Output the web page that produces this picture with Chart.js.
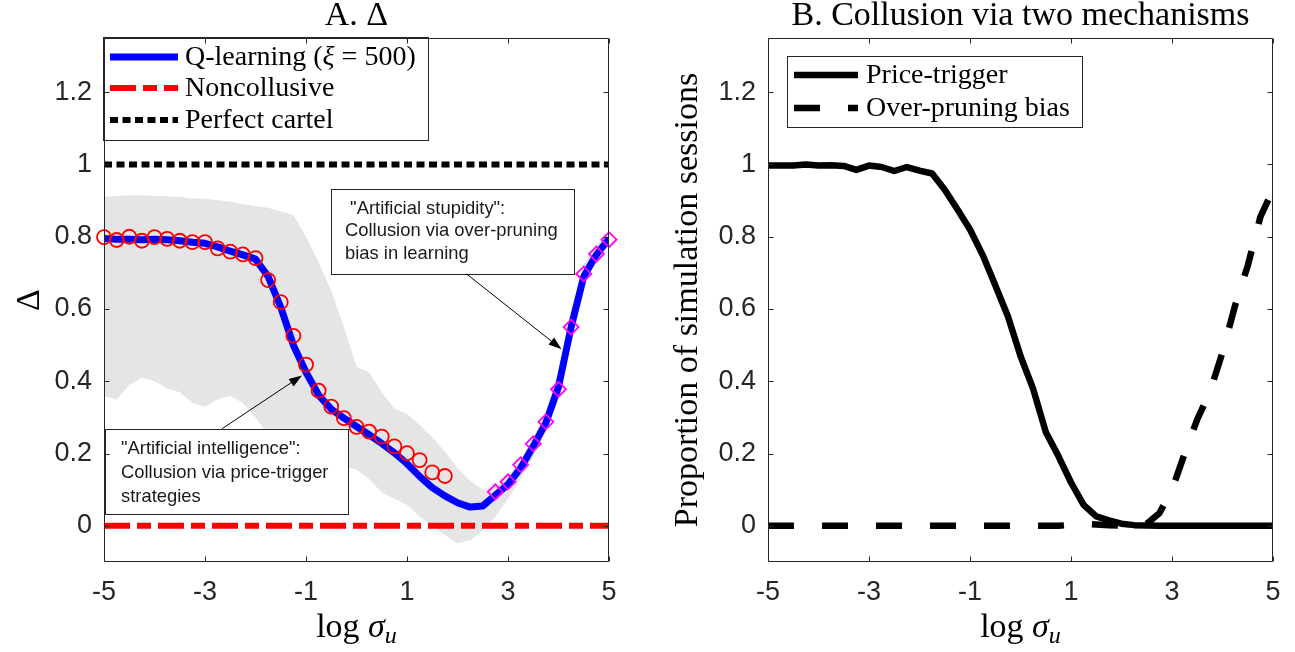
<!DOCTYPE html>
<html><head><meta charset="utf-8">
<script src="https://cdn.jsdelivr.net/npm/chart.js@4.4.1/dist/chart.umd.min.js"></script>
<style>
html,body{margin:0;padding:0;background:#fff;}
body{width:1295px;height:652px;overflow:hidden;position:relative;}
canvas{position:absolute;top:0;}
</style>
</head><body>
<canvas id="c1" width="648" height="652" style="left:0px"></canvas>
<canvas id="c2" width="647" height="652" style="left:648px"></canvas>
<script>
// ---------- data ----------
const xTicks = [-5, -3, -1, 1, 3, 5];
const yTicks = [0, 0.2, 0.4, 0.6, 0.8, 1, 1.2];
const sigma = [-5,-4.75,-4.5,-4.25,-4,-3.75,-3.5,-3.25,-3,-2.75,-2.5,-2.25,-2,-1.75,-1.5,-1.25,-1,-0.75,-0.5,-0.25,0,0.25,0.5,0.75,1,1.25,1.5,1.75,2,2.25,2.5,2.75,3,3.25,3.5,3.75,4,4.25,4.5,4.75,5];
const qLearning = [0.795,0.793,0.793,0.792,0.793,0.792,0.789,0.785,0.782,0.772,0.760,0.750,0.738,0.690,0.605,0.500,0.425,0.362,0.323,0.298,0.275,0.252,0.228,0.202,0.172,0.137,0.106,0.083,0.064,0.052,0.055,0.085,0.115,0.160,0.220,0.285,0.385,0.550,0.690,0.750,0.795];
const bandUpper = [0.910,0.913,0.915,0.915,0.913,0.912,0.910,0.906,0.905,0.901,0.897,0.890,0.885,0.880,0.870,0.860,0.800,0.730,0.650,0.550,0.440,0.425,0.370,0.325,0.310,0.280,0.245,0.205,0.160,0.125,0.100,0.110,0.140,0.180,0.245,0.315,0.430,0.600,0.725,0.775,0.815];
const bandLower = [0.360,0.350,0.390,0.410,0.400,0.380,0.370,0.340,0.330,0.350,0.360,0.340,0.300,0.250,0.220,0.200,0.190,0.180,0.170,0.165,0.155,0.130,0.092,0.075,0.058,0.025,0.000,-0.025,-0.048,-0.040,-0.012,0.025,0.075,0.130,0.190,0.260,0.350,0.510,0.670,0.735,0.780];
const circleSigma = [-5,-4.75,-4.5,-4.25,-4,-3.75,-3.5,-3.25,-3,-2.75,-2.5,-2.25,-2,-1.75,-1.5,-1.25,-1,-0.75,-0.5,-0.25,0,0.25,0.5,0.75,1,1.25,1.5,1.75];
const circleDelta = [0.799,0.791,0.800,0.789,0.799,0.794,0.789,0.785,0.785,0.768,0.759,0.751,0.741,0.680,0.619,0.526,0.446,0.374,0.330,0.298,0.274,0.261,0.247,0.220,0.201,0.182,0.148,0.138];
const diamondSigma = [2.75,3,3.25,3.5,3.75,4,4.25,4.5,4.75,5];
const diamondDelta = [0.094,0.122,0.169,0.227,0.288,0.378,0.550,0.697,0.752,0.792];
const refSigma = [-5, 5];
const noncollusive = [0, 0];
const perfectCartel = [1, 1];
const priceTrigger = [0.997,0.997,0.997,1.000,0.997,0.998,0.996,0.985,0.997,0.993,0.982,0.993,0.983,0.975,0.930,0.876,0.820,0.750,0.666,0.580,0.470,0.379,0.260,0.193,0.120,0.058,0.026,0.015,0.006,0.002,0.001,0,0,0,0,0,0,0,0,0,0];
const overPruning = [0,0,0,0,0,0,0,0,0,0,0,0,0,0,0,0,0,0,0,0,0,0,0,0,0.003,0.006,0.004,0.002,0.001,0.001,0.006,0.035,0.100,0.200,0.295,0.370,0.480,0.610,0.720,0.855,0.930];

// ---------- helpers ----------
const SERIF = '"Liberation Serif", "Times New Roman", serif';
const SANS = '"Liberation Sans", Arial, Helvetica, sans-serif';
const AXIS = '#262626';
const pts = (xs, ys) => xs.map((x, i) => ({x: x, y: ys[i]}));
const RED_DASH = [26, 7, 14, 7];
const DOT = [8, 4.5];
const LONG_DASH = [26, 28];

function richWidth(ctx, parts) { let w = 0; for (const p of parts) { ctx.font = p.f; w += ctx.measureText(p.t).width; } return w; }
function drawRich(ctx, parts, x, y, align) {
  const w = richWidth(ctx, parts);
  let cx = align === 'center' ? x - w / 2 : x;
  ctx.textAlign = 'left';
  for (const p of parts) { ctx.font = p.f; ctx.fillText(p.t, cx, y + (p.dy || 0)); cx += ctx.measureText(p.t).width; }
}
function arrow(ctx, x1, y1, x2, y2) {
  const ang = Math.atan2(y2 - y1, x2 - x1), L = 13, W = 4.5;
  ctx.beginPath(); ctx.moveTo(x1, y1); ctx.lineTo(x2 - (L - 2) * Math.cos(ang), y2 - (L - 2) * Math.sin(ang)); ctx.stroke();
  ctx.beginPath(); ctx.moveTo(x2, y2);
  ctx.lineTo(x2 - L * Math.cos(ang) + W * Math.sin(ang), y2 - L * Math.sin(ang) - W * Math.cos(ang));
  ctx.lineTo(x2 - L * Math.cos(ang) - W * Math.sin(ang), y2 - L * Math.sin(ang) + W * Math.cos(ang));
  ctx.closePath(); ctx.fill();
}

function frameAndTicks(chart) {
  const {ctx, chartArea: a, scales} = chart;
  const x = scales.x, y = scales.y;
  ctx.save();
  ctx.strokeStyle = AXIS; ctx.lineWidth = 1; ctx.setLineDash([]);
  const L = Math.round(a.left) + 0.5, R = Math.round(a.right) - 0.5, T = Math.round(a.top) + 0.5, B = Math.round(a.bottom) - 0.5;
  ctx.beginPath(); ctx.rect(L, T, R - L, B - T); ctx.stroke();
  const tl = 5;
  ctx.beginPath();
  for (const v of xTicks) {
    const px = Math.round(x.getPixelForValue(v)) + 0.5;
    ctx.moveTo(px, B); ctx.lineTo(px, B - tl);
    ctx.moveTo(px, T); ctx.lineTo(px, T + tl);
  }
  for (const v of yTicks) {
    const py = Math.round(y.getPixelForValue(v)) + 0.5;
    ctx.moveTo(L, py); ctx.lineTo(L + tl, py);
    ctx.moveTo(R, py); ctx.lineTo(R - tl, py);
  }
  ctx.stroke();
  ctx.restore();
}

function drawLegend(ctx, a, lg) {
  ctx.save();
  const bx = a.left + lg.dx, by = a.top + lg.dy;
  ctx.fillStyle = '#fff'; ctx.fillRect(bx, by, lg.w, lg.h);
  ctx.strokeStyle = AXIS; ctx.lineWidth = 1; ctx.setLineDash([]);
  ctx.strokeRect(Math.round(bx) + 0.5, Math.round(by) + 0.5, lg.w, lg.h);
  for (const r of lg.rows) {
    const yy = by + r.y;
    ctx.strokeStyle = r.color; ctx.lineWidth = r.width; ctx.setLineDash(r.dash || []); ctx.lineCap = 'butt';
    ctx.beginPath(); ctx.moveTo(bx + lg.s0, yy); ctx.lineTo(bx + lg.s1, yy); ctx.stroke();
    ctx.setLineDash([]);
    ctx.fillStyle = '#000'; ctx.textBaseline = 'middle';
    drawRich(ctx, r.parts, bx + lg.tx, yy + 1, 'left');
  }
  ctx.restore();
}

function titlesAndLabels(chart, cfg) {
  const {ctx, chartArea: a} = chart;
  const cx = (a.left + a.right) / 2, cy = (a.top + a.bottom) / 2;
  ctx.save();
  ctx.fillStyle = '#000'; ctx.textBaseline = 'alphabetic';
  drawRich(ctx, cfg.title, cx, 25, 'center');
  drawRich(ctx, [{t: 'log ', f: '34px ' + SERIF}, {t: 'σ', f: 'italic 34px ' + SERIF}, {t: 'u', f: 'italic 24px ' + SERIF, dy: 6}], cx, 637, 'center');
  ctx.translate(cfg.yLabelX, cy); ctx.rotate(-Math.PI / 2);
  ctx.textBaseline = 'middle';
  drawRich(ctx, cfg.yLabel, 0, 0, 'center');
  ctx.restore();
}

function notesDraw(chart, notes) {
  const {ctx, scales: {x, y}} = chart;
  ctx.save();
  for (const n of notes) {
    const l = x.getPixelForValue(n.box[0]), t = y.getPixelForValue(n.box[1]);
    const r = x.getPixelForValue(n.box[2]), b = y.getPixelForValue(n.box[3]);
    ctx.fillStyle = '#fff'; ctx.fillRect(l, t, r - l, b - t);
    ctx.strokeStyle = AXIS; ctx.lineWidth = 1; ctx.setLineDash([]);
    ctx.strokeRect(Math.round(l) + 0.5, Math.round(t) + 0.5, Math.round(r - l), Math.round(b - t));
    ctx.fillStyle = '#1a1a1a'; ctx.font = '18.4px ' + SANS; ctx.textAlign = 'left'; ctx.textBaseline = 'middle';
    n.lines.forEach((s, i) => ctx.fillText(s, l + n.pad, t + n.offs[i]));
    ctx.strokeStyle = '#000'; ctx.fillStyle = '#000'; ctx.lineWidth = 1;
    arrow(ctx, x.getPixelForValue(n.from[0]), y.getPixelForValue(n.from[1]), x.getPixelForValue(n.to[0]), y.getPixelForValue(n.to[1]));
  }
  ctx.restore();
}

function scalesCfg(yWidth) {
  return {
    x: {type: 'linear', min: -5, max: 5,
      afterBuildTicks: s => { s.ticks = xTicks.map(v => ({value: v})); },
      afterFit: s => { s.height = 90; },
      ticks: {font: {family: SANS, size: 27}, color: AXIS, padding: 14, maxRotation: 0, autoSkip: false, callback: v => String(v)},
      grid: {display: false, drawTicks: false}, border: {display: false}},
    y: {type: 'linear', min: -0.1, max: 1.35,
      afterBuildTicks: s => { s.ticks = yTicks.map(v => ({value: v})); },
      afterFit: s => { s.width = yWidth; },
      ticks: {font: {family: SANS, size: 27}, color: AXIS, padding: 12, autoSkip: false, callback: v => String(v)},
      grid: {display: false, drawTicks: false}, border: {display: false}}
  };
}
const baseOpts = {responsive: false, animation: false, devicePixelRatio: 1, events: [],
  plugins: {legend: {display: false}, tooltip: {enabled: false}, title: {display: false}},
  elements: {line: {tension: 0, borderCapStyle: 'butt', borderJoinStyle: 'round'}, point: {radius: 0}}};

// ---------- Panel A ----------
const notesA = [
  {box: [-4.98, 0.269, -0.168, 0.033], pad: 16, offs: [20, 44, 68],
   lines: ['"Artificial intelligence":', 'Collusion via price-trigger', 'strategies'],
   from: [-2.66, 0.269], to: [-1.08, 0.416]},
  {box: [-0.505, 0.933, 4.31, 0.697], pad: 14, offs: [20, 42.5, 65],
   lines: [' "Artificial stupidity":', 'Collusion via over-pruning', 'bias in learning'],
   from: [2.18, 0.697], to: [4.06, 0.489]}
];
const legendA = {dx: -1, dy: -1, w: 325, h: 103, s0: 7, s1: 75, tx: 82, rows: [
  {y: 20, color: '#0000ff', width: 7, parts: [{t: 'Q-learning (', f: '28px ' + SERIF}, {t: 'ξ', f: 'italic 28px ' + SERIF}, {t: ' = 500)', f: '28px ' + SERIF}]},
  {y: 51, color: '#ff0000', width: 6, dash: RED_DASH, parts: [{t: 'Noncollusive', f: '28px ' + SERIF}]},
  {y: 83, color: '#000000', width: 6, dash: DOT, parts: [{t: 'Perfect cartel', f: '28px ' + SERIF}]}
]};

new Chart(document.getElementById('c1'), {
  type: 'line',
  data: {datasets: [
    {label: 'band upper', data: pts(sigma, bandUpper), fill: '+1', backgroundColor: '#e5e5e5', borderColor: 'rgba(0,0,0,0)', borderWidth: 1, pointRadius: 0, order: 10},
    {label: 'band lower', data: pts(sigma, bandLower), fill: false, borderColor: 'rgba(0,0,0,0)', borderWidth: 1, pointRadius: 0, order: 11},
    {label: 'Noncollusive', data: pts(refSigma, noncollusive), borderColor: '#ff0000', borderWidth: 6, borderDash: RED_DASH, pointRadius: 0, order: 8},
    {label: 'Perfect cartel', data: pts(refSigma, perfectCartel), borderColor: '#000000', borderWidth: 6, borderDash: DOT, pointRadius: 0, order: 7},
    {label: 'Q-learning', data: pts(sigma, qLearning), borderColor: '#0000ff', borderWidth: 7, pointRadius: 0, order: 5},
    {label: 'price-trigger sessions', data: pts(circleSigma, circleDelta), showLine: false, pointStyle: 'circle', pointRadius: 7, pointBorderColor: '#ff0000', pointBackgroundColor: 'rgba(0,0,0,0)', pointBorderWidth: 1.8, order: 2, clip: false},
    {label: 'over-pruning sessions', data: pts(diamondSigma, diamondDelta), showLine: false, pointStyle: 'rectRot', pointRadius: 7.5, pointBorderColor: '#ff00ff', pointBackgroundColor: 'rgba(0,0,0,0)', pointBorderWidth: 1.8, order: 1, clip: false}
  ]},
  options: Object.assign({}, baseOpts, {layout: {padding: {top: 38, right: 39, left: 0, bottom: 0}}, scales: scalesCfg(104)}),
  plugins: [{id: 'decorA',
    afterDatasetsDraw: c => { notesDraw(c, notesA); drawLegend(c.ctx, c.chartArea, legendA); },
    afterDraw: c => { frameAndTicks(c); titlesAndLabels(c, {title: [{t: 'A. Δ', f: '34px ' + SERIF}], yLabel: [{t: 'Δ', f: '34px ' + SERIF}], yLabelX: 30}); }
  }]
});

// ---------- Panel B ----------
const legendB = {dx: 19, dy: 18, w: 295, h: 71, s0: 7, s1: 71, tx: 79, rows: [
  {y: 19, color: '#000000', width: 6.5, parts: [{t: 'Price-trigger', f: '28px ' + SERIF}]},
  {y: 52, color: '#000000', width: 6.5, dash: LONG_DASH, parts: [{t: 'Over-pruning bias', f: '28px ' + SERIF}]}
]};
new Chart(document.getElementById('c2'), {
  type: 'line',
  data: {datasets: [
    {label: 'Price-trigger', data: pts(sigma, priceTrigger), borderColor: '#000000', borderWidth: 6.5, pointRadius: 0, order: 2},
    {label: 'Over-pruning bias', data: pts(sigma, overPruning), borderColor: '#000000', borderWidth: 6.5, borderDash: LONG_DASH, pointRadius: 0, order: 1}
  ]},
  options: Object.assign({}, baseOpts, {layout: {padding: {top: 38, right: 22, left: 0, bottom: 0}}, scales: scalesCfg(120)}),
  plugins: [{id: 'decorB',
    afterDatasetsDraw: c => { drawLegend(c.ctx, c.chartArea, legendB); },
    afterDraw: c => { frameAndTicks(c); titlesAndLabels(c, {title: [{t: 'B. Collusion via two mechanisms', f: '34px ' + SERIF}], yLabel: [{t: 'Proportion of simulation sessions', f: '34px ' + SERIF}], yLabelX: 40}); }
  }]
});
</script>
</body></html>
